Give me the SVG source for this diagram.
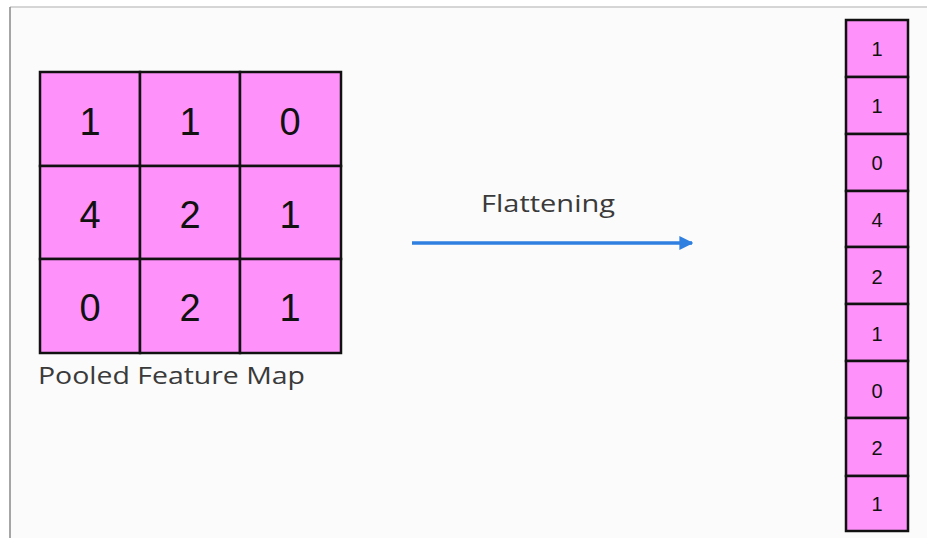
<svg xmlns="http://www.w3.org/2000/svg" width="927" height="538" viewBox="0 0 927 538">
<defs>
<style>
.cell{fill:#ff91fb;stroke:#111;stroke-width:2.5}
.big{font-family:"Liberation Sans","DejaVu Sans",sans-serif;font-size:38px;fill:#111;text-anchor:middle}
.small{font-family:"Liberation Sans","DejaVu Sans",sans-serif;font-size:20px;fill:#111;text-anchor:middle}
.lbl{font-family:"Open Sans","DejaVu Sans",sans-serif;fill:#3a3a3a}
</style>
<marker id="ah" viewBox="0 0 10 10" refX="9" refY="5" markerWidth="4" markerHeight="4" orient="auto" markerUnits="strokeWidth">
<path d="M0,0 L10,5 L0,10 Z" fill="#2f7fe0"/>
</marker>
</defs>
<rect x="0" y="0" width="927" height="538" fill="#ffffff"/>
<rect x="10" y="7" width="917" height="531" fill="#fbfbfb"/>
<line x1="10" y1="7" x2="927" y2="7" stroke="#c8c8c8" stroke-width="1.5"/>
<line x1="10" y1="7" x2="10" y2="538" stroke="#888" stroke-width="1.5"/>

<g id="pooled-map">
<rect class="cell" x="40" y="72" width="100" height="94"/>
<rect class="cell" x="140" y="72" width="100" height="94"/>
<rect class="cell" x="240" y="72" width="101" height="94"/>
<rect class="cell" x="40" y="166" width="100" height="93"/>
<rect class="cell" x="140" y="166" width="100" height="93"/>
<rect class="cell" x="240" y="166" width="101" height="93"/>
<rect class="cell" x="40" y="259" width="100" height="94"/>
<rect class="cell" x="140" y="259" width="100" height="94"/>
<rect class="cell" x="240" y="259" width="101" height="94"/>
<text class="big" x="90" y="135">1</text>
<text class="big" x="190" y="135">1</text>
<text class="big" x="290" y="135">0</text>
<text class="big" x="90" y="228">4</text>
<text class="big" x="190" y="228">2</text>
<text class="big" x="290" y="228">1</text>
<text class="big" x="90" y="321">0</text>
<text class="big" x="190" y="321">2</text>
<text class="big" x="290" y="321">1</text>
<text class="lbl" x="38" y="384" font-size="24" textLength="267" lengthAdjust="spacingAndGlyphs">Pooled Feature Map</text>
</g>

<g id="connectors">
<line x1="412" y1="243" x2="692" y2="243" stroke="#2f7fe0" stroke-width="3.5" marker-end="url(#ah)"/>
<text class="lbl" x="481" y="212" font-size="24" textLength="134" lengthAdjust="spacingAndGlyphs">Flattening</text>
</g>

<g id="flattened-vector">
<rect class="cell" x="846" y="20" width="62" height="57"/>
<rect class="cell" x="846" y="77" width="62" height="57"/>
<rect class="cell" x="846" y="134" width="62" height="57"/>
<rect class="cell" x="846" y="191" width="62" height="56"/>
<rect class="cell" x="846" y="247" width="62" height="57"/>
<rect class="cell" x="846" y="304" width="62" height="57"/>
<rect class="cell" x="846" y="361" width="62" height="57"/>
<rect class="cell" x="846" y="418" width="62" height="58"/>
<rect class="cell" x="846" y="476" width="62" height="55"/>
<text class="small" x="877" y="56">1</text>
<text class="small" x="877" y="113">1</text>
<text class="small" x="877" y="170">0</text>
<text class="small" x="877" y="227">4</text>
<text class="small" x="877" y="284">2</text>
<text class="small" x="877" y="341">1</text>
<text class="small" x="877" y="398">0</text>
<text class="small" x="877" y="455">2</text>
<text class="small" x="877" y="511">1</text>
</g>
</svg>
